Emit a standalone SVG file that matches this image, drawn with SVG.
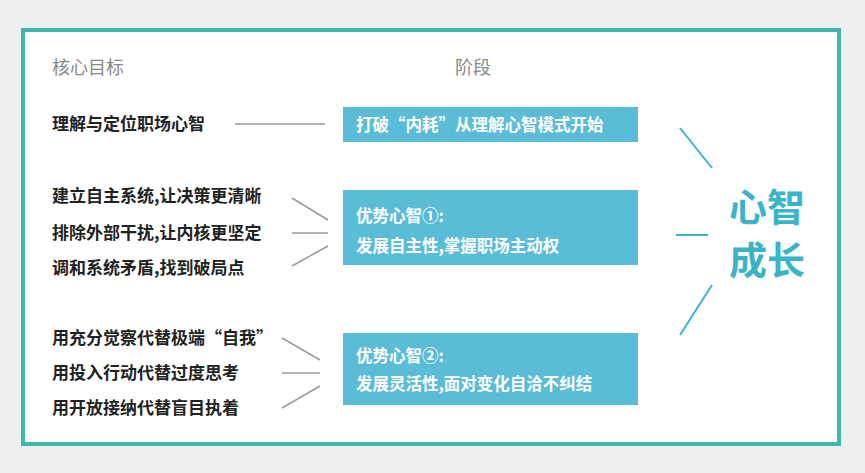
<svg xmlns="http://www.w3.org/2000/svg" width="865" height="473" viewBox="0 0 865 473">
<style>
text{font-family:"Noto Sans CJK SC","Noto Sans",sans-serif}
.h{font-size:18px;fill:#888}
.l{font-size:17px;fill:#222;font-weight:bold}
.b{fill:#5bbcd8}
.bt{font-size:16.5px;fill:#fff;font-weight:bold}
.g{font-size:38px;font-weight:bold;fill:#3ab4c8}
.c line{stroke:#9a9a9a;stroke-width:1.5}
.r line{stroke:#3ab4c8;stroke-width:2}
</style>
<rect width="865" height="473" fill="#efefef"/>
<rect x="23" y="30" width="816" height="414" fill="#fff" stroke="#3bbaa8" stroke-width="4"/>
<text class="h" x="52" y="74">核心目标</text>
<text class="h" x="455" y="74">阶段</text>
<g id="left">
<text class="l" x="52" y="130">理解与定位职场心智</text>
<text class="l" x="52" y="202">建立自主系统,让决策更清晰</text>
<text class="l" x="52" y="239">排除外部干扰,让内核更坚定</text>
<text class="l" x="52" y="274">调和系统矛盾,找到破局点</text>
<text class="l" x="52" y="344">用充分觉察代替极端“自我”</text>
<text class="l" x="52" y="379">用投入行动代替过度思考</text>
<text class="l" x="52" y="414">用开放接纳代替盲目执着</text>
</g>
<g id="box1"><rect class="b" x="343" y="107" width="295" height="35"/><text class="bt" x="356" y="131">打破“内耗”从理解心智模式开始</text></g>
<g id="box2"><rect class="b" x="343" y="190" width="295" height="75"/><text class="bt" x="356" y="222">优势心智①:</text><text class="bt" x="356" y="252">发展自主性,掌握职场主动权</text></g>
<g id="box3"><rect class="b" x="343" y="333" width="295" height="72"/><text class="bt" x="356" y="362">优势心智②:</text><text class="bt" x="356" y="390">发展灵活性,面对变化自洽不纠结</text></g>
<g id="goal"><text class="g" x="729" y="221">心智</text><text class="g" x="729" y="274">成长</text></g>
<g class="c">
<line x1="235" y1="124" x2="325" y2="124"/>
<line x1="292" y1="198" x2="328" y2="220"/>
<line x1="292" y1="233" x2="328" y2="233"/>
<line x1="292" y1="266" x2="328" y2="246"/>
<line x1="282" y1="338" x2="320" y2="360"/>
<line x1="282" y1="373" x2="320" y2="373"/>
<line x1="282" y1="408" x2="320" y2="386"/>
</g>
<g class="r">
<line x1="680" y1="128" x2="712" y2="168"/>
<line x1="676" y1="235" x2="708" y2="235"/>
<line x1="680" y1="335" x2="712" y2="285"/>
</g>
</svg>
